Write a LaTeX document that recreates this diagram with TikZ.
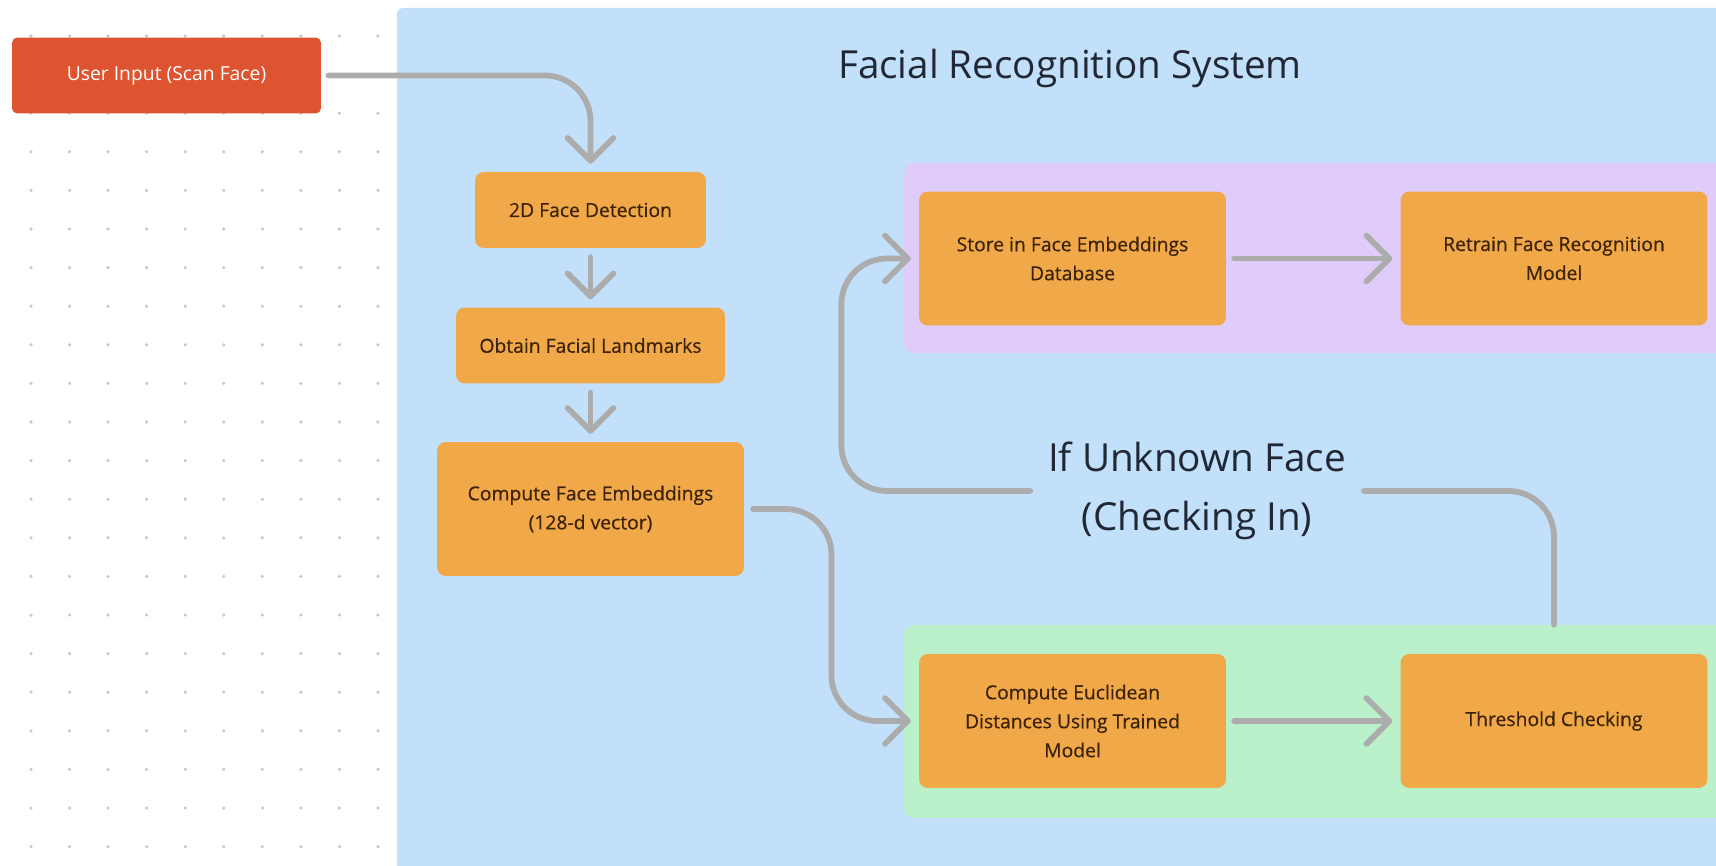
\documentclass[tikz,border=0pt]{standalone}
\usepackage{fontspec}
\setmainfont{Open Sans}
\newfontfamily\stepfont[FakeBold=0.5]{Open Sans}
\usetikzlibrary{arrows.meta,calc}
\definecolor{canvasblue}{RGB}{195,224,250}
\definecolor{zonepurple}{RGB}{223,204,250}
\definecolor{zonegreen}{RGB}{186,241,203}
\definecolor{stepfill}{RGB}{240,168,72}
\definecolor{stepink}{RGB}{60,34,6}
\definecolor{inputred}{RGB}{223,84,48}
\definecolor{linkgray}{RGB}{172,172,172}
\definecolor{dotgray}{RGB}{200,200,200}
\definecolor{headink}{RGB}{32,40,54}
\begin{document}
\begin{tikzpicture}[x=0.02cm,y=-0.02cm,
  stepbox/.style={rectangle, rounded corners=5pt, fill=stepfill, text=stepink,
    font=\stepfont\fontsize{11}{16.5}\selectfont, align=center, inner sep=0pt},
  bigstep/.style={stepbox, minimum width=6.14cm, minimum height=2.68cm},
  inputbox/.style={rectangle, rounded corners=3pt, fill=inputred, text=white,
    font=\fontsize{11}{16.5}\selectfont, minimum width=6.18cm, minimum height=1.52cm},
  zone/.style={rectangle, rounded corners=6pt, minimum width=16.8cm, inner sep=0pt},
  heading/.style={text=headink, font=\fontsize{22}{33.6}\selectfont, align=center},
  link/.style={draw=linkgray, line width=3.3pt, line cap=round, rounded corners=26pt,
    -{Straight Barb[length=13pt,width=26pt,round]}},
  plain link/.style={draw=linkgray, line width=3.3pt, line cap=round, rounded corners=26pt}]
\useasboundingbox (0,0) rectangle (1716,865);
\fill[white] (0,0) rectangle (1716,865);
% dotted canvas on the left
\foreach \i in {0,...,9}
  \foreach \j in {0,...,21}
    \fill[dotgray] (31+38.55*\i,36+38.6*\j) circle[radius=1pt];
\fill[canvasblue, rounded corners=3pt] (397,8) rectangle (1740,880);
% zones
\node[zone, fill=zonepurple, minimum height=3.8cm] (dbzone) at (1324,258) {};
\node[zone, fill=zonegreen, minimum height=3.86cm] (matchzone) at (1324,721.5) {};
% title
\node[heading] (title) at (1070,68) {Facial Recognition System};
% boxes
\node[inputbox] (userin) at (166.5,75.5) {User Input (Scan Face)};
\node[stepbox, minimum width=4.62cm, minimum height=1.52cm] (detect) at (590.5,210) {2D Face Detection};
\node[stepbox, minimum width=5.38cm, minimum height=1.52cm] (landmarks) at (590.5,345.5) {Obtain Facial Landmarks};
\node[bigstep] (embed) at (590.5,509) {Compute Face Embeddings\\(128-d vector)};
\node[bigstep] (store) at (1072.5,258.5) {Store in Face Embeddings\\Database};
\node[bigstep] (retrain) at (1554,258.5) {Retrain Face Recognition\\Model};
\node[bigstep] (euclid) at (1072.5,721) {Compute Euclidean\\Distances Using Trained\\Model};
\node[bigstep] (thresh) at (1554,721) {Threshold Checking};
\node[heading, inner sep=10pt] (unknown) at (1197,491) {If Unknown Face\\(Checking In)};
% connectors
\draw[link, shorten <=4pt, shorten >=4.5pt] (userin.east) -| (detect.north);
\draw[link, shorten <=5pt, shorten >=4.5pt] (detect) -- (landmarks);
\draw[link, shorten <=5pt, shorten >=4.5pt] (landmarks) -- (embed);
\draw[link, shorten <=5pt, shorten >=4.5pt] (embed.east) -| ($(embed.east)!0.5!(euclid.west)$) |- (euclid.west);
\draw[link, shorten <=4.5pt, shorten >=4.5pt] (euclid) -- (thresh);
\draw[link, shorten <=4.5pt, shorten >=4.5pt] (store) -- (retrain);
\draw[plain link] (matchzone.north -| thresh.north) |- (unknown.east);
\draw[link, shorten >=4.5pt] (unknown.west) -| ([xshift=-44pt]store.west) -- (store.west);
\end{tikzpicture}
\end{document}
